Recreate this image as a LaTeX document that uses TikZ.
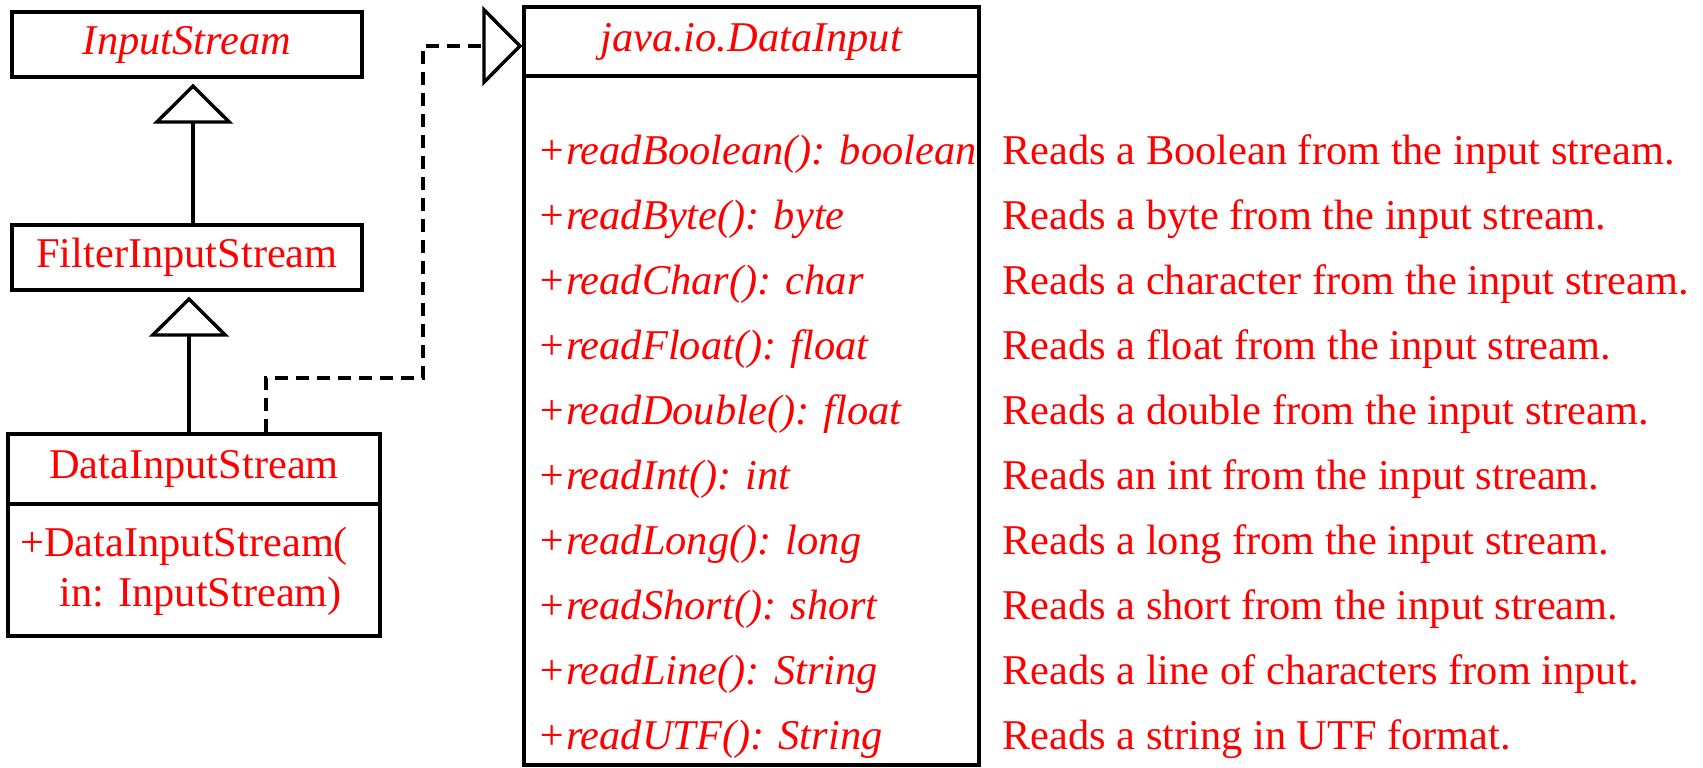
\documentclass[tikz,border=0pt]{standalone}
\usepackage{fontspec}
\setmainfont{Liberation Serif}
\usetikzlibrary{arrows.meta}

\tikzset{
	umlbox/.style={draw, line width=1.7pt, text=red, inner sep=0pt, font=\fontsize{21.2}{25}\selectfont},
	txt/.style={text=red, inner sep=0pt, anchor=base west, font=\fontsize{21.2}{25}\selectfont},
	gen/.style={line width=1.7pt, -{Triangle[open, length=20pt, width=40pt]}},
	realize/.style={gen, dash pattern=on 6.5pt off 4pt},
}

\begin{document}
\begin{tikzpicture}[x=0.5pt,y=-0.5pt]
	\useasboundingbox (0,0) rectangle (1703,767);
	\node[umlbox, minimum width=175pt, minimum height=32.5pt] (is) at (187,44.5) {\textit{InputStream}};
	\node[umlbox, minimum width=175pt, minimum height=32.5pt] (fis) at (187,257.5) {FilterInputStream};
	\node[umlbox, minimum width=186pt, minimum height=35pt] (dis) at (194,469) {DataInputStream};
	\node[umlbox, minimum width=186pt, minimum height=66pt] (disbody) at (194,570) {};
	\node[txt] (ctor) at (20,556) {+DataInputStream(};
	\node[txt] (ctorarg) at (59,606) {in: InputStream)};
	\node[umlbox, minimum width=227.5pt, minimum height=34.5pt] (di) at (751.5,41.5) {\textit{java.io.DataInput}};
	\node[umlbox, minimum width=227.5pt, minimum height=344.5pt] (dibody) at (751.5,420.5) {};
	\foreach \m/\d [count=\i from 0] in {
		readBoolean(): boolean/Reads a Boolean from the input stream.,
		readByte(): byte/Reads a byte from the input stream.,
		readChar(): char/Reads a character from the input stream.,
		readFloat(): float/Reads a float from the input stream.,
		readDouble(): float/Reads a double from the input stream.,
		readInt(): int/Reads an int from the input stream.,
		readLong(): long/Reads a long from the input stream.,
		readShort(): short/Reads a short from the input stream.,
		readLine(): String/Reads a line of characters from input.,
		readUTF(): String/Reads a string in UTF format.}
	{
		\node[txt] (m\i) at (537,{164+65*\i}) {\textit{+\m}};
		\node[txt] (d\i) at (1002,{164+65*\i}) {\d};
	}
	\draw[gen] (fis.north -| 193,0) -- ([yshift=-2.5pt]is.south -| 193,0);
	\draw[gen] (dis.north -| 189,0) -- ([yshift=-2.5pt]fis.south -| 189,0);
	\draw[realize] (dis.north -| 266,0) -- (266,378) -- (423,378) -- (423,46) -- (di.west |- 0,46);
\end{tikzpicture}
\end{document}
